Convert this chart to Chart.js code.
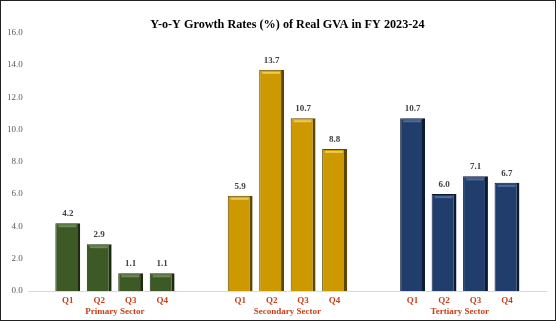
<!DOCTYPE html>
<html>
<head>
<meta charset="utf-8">
<script src="https://cdn.jsdelivr.net/npm/chart.js@4"></script>
<style>
  html, body { margin: 0; padding: 0; background: #fff; }
  #wrap { width: 556px; height: 321px; box-sizing: border-box; border: 1px solid #222; }
  #chart { display: block; width: 554px; height: 319px; }
</style>
</head>
<body>
<div id="wrap"><canvas id="chart" width="554" height="319"></canvas></div>
<script>
// Sectors and quarterly growth (%)
const sectors = ['Primary Sector', 'Secondary Sector', 'Tertiary Sector'];
const quarters = ['Q1', 'Q2', 'Q3', 'Q4'];
const q1 = [4.2, 5.9, 10.7];
const q2 = [2.9, 13.7, 6.0];
const q3 = [1.1, 10.7, 7.1];
const q4 = [1.1, 8.8, 6.7];
const yTicks = [0, 2, 4, 6, 8, 10, 12, 14, 16];

const fill = ['#3d5a26', '#cc9900', '#213d6b'];
const edge = ['#1c2b10', '#5e4600', '#0d1a33'];
const shine = ['#6f8c55', '#f2c94c', '#4e6b9c'];
const serif = "'Liberation Serif', 'DejaVu Serif', serif";

// value on top, quarter name under each bar, small highlight near bar top
const barText = {
    id: 'barText',
    afterDatasetsDraw(chart) {
        const ctx = chart.ctx;
        const base = chart.scales.y.getPixelForValue(0);
        chart.data.datasets.forEach((ds, i) => {
            chart.getDatasetMeta(i).data.forEach((bar, j) => {
                const half = bar.width / 2;
                ctx.save();
                ctx.fillStyle = shine[j];
                ctx.fillRect(bar.x - half + 3, bar.y + 2, bar.width - 7, 2);
                ctx.font = 'bold 9px ' + serif;
                ctx.fillStyle = '#404040';
                ctx.textAlign = 'center';
                ctx.textBaseline = 'bottom';
                ctx.fillText(ds.data[j].toFixed(1), bar.x, bar.y - 5);
                ctx.fillStyle = '#c8401a';
                ctx.textBaseline = 'top';
                ctx.fillText(ds.label, bar.x, base + 5);
                ctx.restore();
            });
        });
    }
};

const series = [q1, q2, q3, q4];

new Chart(document.getElementById('chart'), {
    type: 'bar',
    data: {
        labels: sectors,
        datasets: quarters.map((q, i) => ({
            label: q,
            data: series[i],
            backgroundColor: fill,
            borderColor: edge,
            borderWidth: { top: 1, left: 1, right: 3, bottom: 0 },
            borderSkipped: false,
            categoryPercentage: 0.73,
            barPercentage: 0.79
        }))
    },
    options: {
        responsive: false,
        animation: false,
        layout: { padding: { left: 0, right: 9, top: 0, bottom: 0 } },
        plugins: {
            legend: { display: false },
            tooltip: { enabled: false },
            title: {
                display: true,
                fullSize: false,
                text: 'Y-o-Y Growth Rates (%) of Real GVA in FY 2023-24',
                color: '#000',
                font: { family: serif, size: 12.2, weight: 'bold' },
                padding: { top: 17, bottom: 0 }
            }
        },
        scales: {
            x: {
                grid: { display: false, drawTicks: false },
                border: { display: true, color: '#d9d9d9', width: 1 },
                ticks: {
                    color: '#c8401a',
                    font: { family: serif, size: 9, weight: 'bold' },
                    padding: 15,
                    maxRotation: 0,
                    autoSkip: false
                },
                afterFit: scale => { scale.height = 29; }
            },
            y: {
                min: 0,
                max: 16,
                afterBuildTicks: axis => { axis.ticks = yTicks.map(v => ({ value: v })); },
                grid: { display: false, drawTicks: false },
                border: { display: false },
                ticks: {
                    color: '#595959',
                    font: { family: serif, size: 9 },
                    padding: 6,
                    callback: v => v.toFixed(1)
                }
            }
        }
    },
    plugins: [barText]
});
</script>
</body>
</html>
